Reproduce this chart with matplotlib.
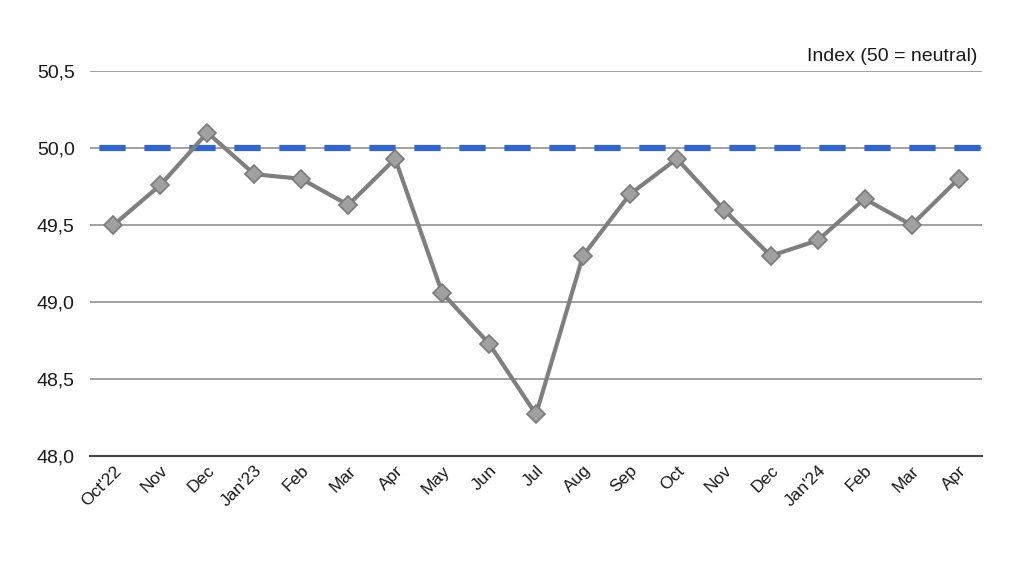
import matplotlib
matplotlib.use("Agg")
import matplotlib.pyplot as plt
import numpy as np

plt.rcParams['font.family'] = ['Liberation Sans', 'DejaVu Sans']

# Data
months = ["Oct'22", "Nov", "Dec", "Jan'23", "Feb", "Mar", "Apr", "May", "Jun", "Jul",
          "Aug", "Sep", "Oct", "Nov", "Dec", "Jan'24", "Feb", "Mar", "Apr"]
index_values = [49.50, 49.76, 50.10, 49.83, 49.80, 49.63, 49.93, 49.06, 48.73, 48.27,
                49.30, 49.70, 49.93, 49.60, 49.30, 49.40, 49.67, 49.50, 49.80]
neutral = 50.0
y_ticks = [48.0, 48.5, 49.0, 49.5, 50.0, 50.5]

fig = plt.figure(figsize=(10.24, 5.76), dpi=100)
ax = fig.add_axes([0.0879, 0.2083, 0.8711, 0.6684])

x = np.arange(len(months))

# Gridlines
for yt in y_ticks[1:]:
    ax.axhline(yt, color='#9a9a9a', lw=1.3, zorder=1)

# Neutral line
ax.plot([-0.5, len(months) - 0.5], [neutral, neutral],
        color='#3366cc', lw=4.5, zorder=2, linestyle=(-1.5, (4.2, 3.0)))

ax.plot(x, index_values, color='#7f7f7f', lw=3, marker='D', markersize=9.5,
        markerfacecolor='#a0a0a0', markeredgecolor='#7a7a7a', markeredgewidth=1.2,
        zorder=3)

ax.set_xlim(-0.5, len(months) - 0.5)
ax.set_ylim(48.0, 50.5)
ax.set_yticks(y_ticks)
ax.set_yticklabels([f"{v:.1f}".replace('.', ',') for v in y_ticks], fontsize=14,
                   color='#1a1a1a')
ax.set_xticks(x)
ax.set_xticklabels(months, rotation=45, ha='right', rotation_mode='anchor', fontsize=12.5,
                   color='#1a1a1a')

for side in ['top', 'right', 'left']:
    ax.spines[side].set_visible(False)
ax.spines['bottom'].set_color('#444444')
ax.spines['bottom'].set_linewidth(1.5)
ax.tick_params(axis='both', length=0)
ax.tick_params(axis='y', pad=11)
ax.tick_params(axis='x', pad=5)

ax.text(0.995, 1.015, "Index (50 = neutral)", transform=ax.transAxes,
        ha='right', va='bottom', fontsize=14, color='#1a1a1a')

fig.savefig("out.png", dpi=100)
